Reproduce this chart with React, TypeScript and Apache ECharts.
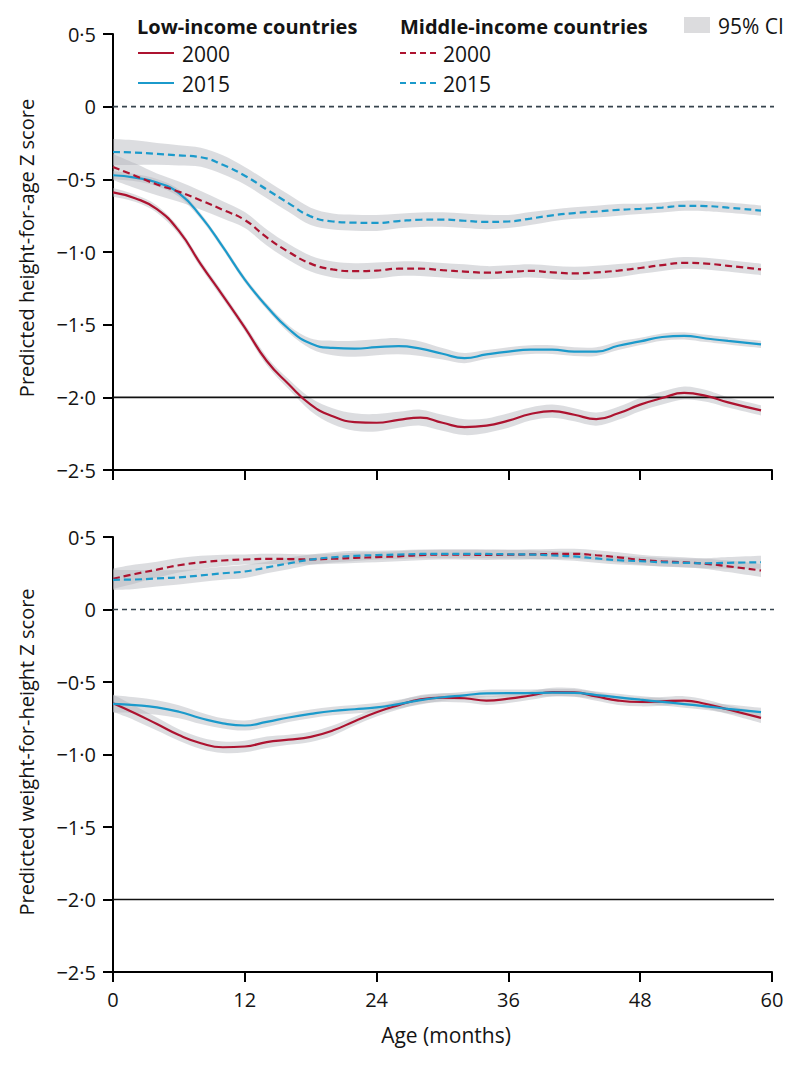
import React, { useEffect, useRef } from 'react';
import * as echarts from 'echarts';

// ---------- Data ----------
const MONTHS = [0, 2, 4, 6, 8, 10, 12, 14, 16, 18, 20, 22, 24, 26, 28, 30, 32, 34, 36, 38, 40, 42, 44, 46, 48, 50, 52, 54, 56, 59];

// Height-for-age Z score (top panel)
const HAZ_LOW_2000 = [-0.59, -0.63, -0.705, -0.855, -1.085, -1.3, -1.52, -1.75, -1.91, -2.05, -2.13, -2.17, -2.175, -2.155, -2.14, -2.175, -2.205, -2.195, -2.16, -2.115, -2.095, -2.12, -2.15, -2.11, -2.05, -2.005, -1.97, -1.99, -2.035, -2.09];
const HAZ_LOW_2015 = [-0.472, -0.488, -0.522, -0.595, -0.755, -0.965, -1.19, -1.375, -1.53, -1.63, -1.66, -1.665, -1.655, -1.648, -1.665, -1.7, -1.73, -1.705, -1.685, -1.672, -1.672, -1.685, -1.685, -1.645, -1.615, -1.585, -1.577, -1.595, -1.612, -1.636];
const HAZ_MID_2000 = [-0.415, -0.475, -0.535, -0.585, -0.645, -0.71, -0.78, -0.9, -1.0, -1.08, -1.12, -1.132, -1.128, -1.115, -1.115, -1.125, -1.135, -1.142, -1.137, -1.13, -1.14, -1.147, -1.14, -1.128, -1.11, -1.09, -1.075, -1.08, -1.095, -1.12];
const HAZ_MID_2015 = [-0.312, -0.316, -0.325, -0.335, -0.348, -0.4, -0.475, -0.57, -0.665, -0.755, -0.79, -0.798, -0.8, -0.787, -0.778, -0.777, -0.785, -0.793, -0.79, -0.77, -0.748, -0.732, -0.722, -0.71, -0.703, -0.694, -0.682, -0.684, -0.695, -0.715];

// 95% CI half-widths (top panel)
const HAZ_LOW_2000_CI = [0.03, 0.025, 0.025, 0.025, 0.025, 0.025, 0.025, 0.03, 0.035, 0.045, 0.055, 0.06, 0.06, 0.055, 0.055, 0.055, 0.055, 0.05, 0.05, 0.045, 0.045, 0.045, 0.045, 0.045, 0.045, 0.045, 0.045, 0.04, 0.035, 0.035];
const HAZ_LOW_2015_CI = [0.03, 0.025, 0.025, 0.025, 0.02, 0.02, 0.02, 0.02, 0.025, 0.035, 0.05, 0.055, 0.055, 0.055, 0.05, 0.04, 0.035, 0.03, 0.03, 0.03, 0.03, 0.03, 0.03, 0.03, 0.025, 0.025, 0.025, 0.025, 0.025, 0.025];
const HAZ_MID_2000_CI = [0.09, 0.085, 0.075, 0.07, 0.065, 0.06, 0.055, 0.055, 0.055, 0.055, 0.055, 0.055, 0.055, 0.05, 0.05, 0.05, 0.05, 0.045, 0.045, 0.045, 0.045, 0.045, 0.045, 0.045, 0.04, 0.04, 0.04, 0.04, 0.04, 0.04];
const HAZ_MID_2015_CI = [0.09, 0.085, 0.075, 0.07, 0.065, 0.065, 0.06, 0.06, 0.06, 0.06, 0.055, 0.055, 0.055, 0.05, 0.05, 0.05, 0.05, 0.05, 0.045, 0.045, 0.04, 0.04, 0.04, 0.04, 0.035, 0.035, 0.035, 0.035, 0.035, 0.035];

// Weight-for-height Z score (bottom panel)
const WHZ_LOW_2000 = [-0.646, -0.715, -0.79, -0.866, -0.922, -0.95, -0.945, -0.915, -0.898, -0.878, -0.835, -0.77, -0.708, -0.66, -0.62, -0.608, -0.612, -0.628, -0.615, -0.593, -0.57, -0.572, -0.6, -0.628, -0.638, -0.634, -0.628, -0.652, -0.69, -0.747];
const WHZ_LOW_2015 = [-0.651, -0.66, -0.675, -0.705, -0.75, -0.785, -0.8, -0.775, -0.745, -0.72, -0.7, -0.688, -0.675, -0.652, -0.625, -0.605, -0.592, -0.578, -0.577, -0.577, -0.573, -0.575, -0.59, -0.606, -0.622, -0.637, -0.652, -0.668, -0.685, -0.708];
const WHZ_MID_2000 = [0.212, 0.245, 0.275, 0.305, 0.325, 0.338, 0.345, 0.349, 0.348, 0.345, 0.35, 0.356, 0.361, 0.367, 0.375, 0.379, 0.378, 0.377, 0.378, 0.38, 0.383, 0.384, 0.374, 0.36, 0.343, 0.332, 0.325, 0.315, 0.298, 0.269];
const WHZ_MID_2015 = [0.205, 0.207, 0.214, 0.222, 0.235, 0.25, 0.262, 0.29, 0.318, 0.344, 0.36, 0.37, 0.375, 0.379, 0.383, 0.384, 0.384, 0.383, 0.381, 0.379, 0.373, 0.366, 0.352, 0.34, 0.333, 0.326, 0.322, 0.319, 0.322, 0.326];

const WHZ_LOW_2000_CI = [0.06, 0.05, 0.045, 0.04, 0.04, 0.04, 0.04, 0.04, 0.035, 0.035, 0.035, 0.03, 0.03, 0.03, 0.03, 0.03, 0.03, 0.03, 0.03, 0.03, 0.03, 0.03, 0.03, 0.03, 0.03, 0.03, 0.03, 0.03, 0.03, 0.035];
const WHZ_LOW_2015_CI = [0.06, 0.055, 0.05, 0.045, 0.04, 0.035, 0.035, 0.035, 0.03, 0.03, 0.03, 0.03, 0.03, 0.03, 0.03, 0.025, 0.025, 0.025, 0.025, 0.025, 0.025, 0.025, 0.025, 0.025, 0.025, 0.025, 0.025, 0.025, 0.03, 0.03];
const WHZ_MID_2000_CI = [0.07, 0.065, 0.055, 0.05, 0.045, 0.04, 0.035, 0.035, 0.035, 0.035, 0.035, 0.035, 0.035, 0.035, 0.035, 0.035, 0.035, 0.035, 0.035, 0.035, 0.035, 0.035, 0.035, 0.035, 0.035, 0.035, 0.035, 0.035, 0.04, 0.045];
const WHZ_MID_2015_CI = [0.07, 0.065, 0.055, 0.05, 0.045, 0.045, 0.045, 0.04, 0.04, 0.035, 0.035, 0.035, 0.03, 0.03, 0.03, 0.03, 0.03, 0.03, 0.03, 0.03, 0.03, 0.03, 0.03, 0.03, 0.03, 0.03, 0.03, 0.035, 0.04, 0.045];

// Reference lines (value, extends a little past 60 months)
const REF_ZERO = 0;
const REF_STUNT = -2;
const REF_X_END = 60.8;

const X_MIN = 0;
const X_MAX = 60;
const X_INTERVAL = 12;
const Y_MIN = -2.5;
const Y_MAX = 0.5;
const Y_INTERVAL = 0.5;

const LEGEND_GROUPS = ['Low-income countries', 'Middle-income countries'];
const LEGEND_YEARS = ['2000', '2015'];
const CI_LABEL = '95% CI';
const Y_NAMES = ['Predicted height-for-age Z score', 'Predicted weight-for-height Z score'];
const X_NAME = 'Age (months)';

// ---------- Styles ----------
const RED = '#ad1330';
const BLUE = '#1b9acb';
const BAND_FILL = 'rgba(178,180,186,0.45)';
const TEXT = '#141414';
const FONT = '"Open Sans", "Noto Sans", sans-serif';

function crPath(p: number[][]): string {
  let s = '';
  for (let i = 0; i < p.length - 1; i++) {
    const p0 = p[i - 1] || p[i];
    const p1 = p[i];
    const p2 = p[i + 1];
    const p3 = p[i + 2] || p2;
    const c1x = p1[0] + (p2[0] - p0[0]) / 6;
    const c1y = p1[1] + (p2[1] - p0[1]) / 6;
    const c2x = p2[0] - (p3[0] - p1[0]) / 6;
    const c2y = p2[1] - (p3[1] - p1[1]) / 6;
    s += ` C${c1x.toFixed(2)},${c1y.toFixed(2)} ${c2x.toFixed(2)},${c2y.toFixed(2)} ${p2[0].toFixed(2)},${p2[1].toFixed(2)}`;
  }
  return s;
}

function bandSeries(g: number, center: number[], ci: number[]) {
  return {
    type: 'custom',
    xAxisIndex: g,
    yAxisIndex: g,
    silent: true,
    z: 1,
    data: MONTHS.map((m, i) => [m, center[i] - ci[i], center[i] + ci[i]]),
    encode: { x: 0, y: [1, 2] },
    renderItem: (params: any, api: any) => {
      if (params.dataIndex !== 0) return null;
      const up = MONTHS.map((m, i) => api.coord([m, center[i] + ci[i]]));
      const lo = MONTHS.map((m, i) => api.coord([m, center[i] - ci[i]])).reverse();
      const d =
        `M${up[0][0].toFixed(2)},${up[0][1].toFixed(2)}` +
        crPath(up) +
        ` L${lo[0][0].toFixed(2)},${lo[0][1].toFixed(2)}` +
        crPath(lo) +
        ' Z';
      return { type: 'path', shape: { pathData: d }, style: { fill: BAND_FILL } };
    },
  };
}

function lineSeries(g: number, name: string, vals: number[], color: string, dashed: boolean) {
  return {
    type: 'line',
    name,
    xAxisIndex: g,
    yAxisIndex: g,
    data: MONTHS.map((m, i) => [m, vals[i]]),
    smooth: 0.5,
    symbol: 'none',
    silent: true,
    z: 4,
    lineStyle: { color, width: 2.2, type: dashed ? [7, 4] : 'solid' },
  };
}

function refSeries(g: number, value: number, dashed: boolean) {
  return {
    type: 'line',
    xAxisIndex: g,
    yAxisIndex: g,
    data: [
      [X_MIN, value],
      [REF_X_END, value],
    ],
    clip: false,
    symbol: 'none',
    silent: true,
    z: 2,
    lineStyle: dashed
      ? { color: '#36434d', width: 1.6, type: [5, 4] }
      : { color: '#111111', width: 1.6, type: 'solid' },
  };
}

function fmtY(v: number): string {
  if (Math.abs(v) < 1e-9) return '0';
  return (v < 0 ? '\u2212' : '') + Math.abs(v).toFixed(1).replace('.', '\u00b7');
}

function yAxis(g: number) {
  return {
    type: 'value',
    gridIndex: g,
    min: Y_MIN,
    max: Y_MAX,
    interval: Y_INTERVAL,
    splitLine: { show: false },
    axisLine: { show: true, lineStyle: { color: '#000', width: 2 } },
    axisTick: { show: true, length: 10, lineStyle: { color: '#000', width: 2 } },
    axisLabel: { formatter: fmtY, color: TEXT, fontSize: 20, fontFamily: FONT, margin: 17 },
  };
}

function xAxis(g: number, labels: boolean) {
  return {
    type: 'value',
    gridIndex: g,
    min: X_MIN,
    max: X_MAX,
    interval: X_INTERVAL,
    splitLine: { show: false },
    axisLine: { show: true, onZero: false, lineStyle: { color: '#000', width: 2 } },
    axisTick: { show: true, length: 10, lineStyle: { color: '#000', width: 2 } },
    axisLabel: { show: labels, color: TEXT, fontSize: 20, fontFamily: FONT, margin: 17 },
  };
}

function legendGraphics() {
  const els: any[] = [];
  const cols = [
    { x: 137, lineX: 138, textX: 182, dashed: false },
    { x: 400, lineX: 400, textX: 443, dashed: true },
  ];
  cols.forEach((c, ci) => {
    els.push({
      type: 'text',
      x: c.x,
      y: 26,
      style: { text: LEGEND_GROUPS[ci], font: `bold 20px ${FONT}`, fill: TEXT, verticalAlign: 'middle' },
    });
    LEGEND_YEARS.forEach((yr, yi) => {
      const yy = 53 + yi * 30;
      els.push({
        type: 'line',
        shape: { x1: c.lineX, y1: yy, x2: c.lineX + 36, y2: yy },
        style: { stroke: yi === 0 ? RED : BLUE, lineWidth: 2.2, lineDash: c.dashed ? [6, 4] : null },
      });
      els.push({
        type: 'text',
        x: c.textX,
        y: yy + 1,
        style: { text: yr, font: `21px ${FONT}`, fill: TEXT, verticalAlign: 'middle' },
      });
    });
  });
  els.push({ type: 'rect', shape: { x: 684, y: 17, width: 26, height: 16 }, style: { fill: '#dcdcde' } });
  els.push({
    type: 'text',
    x: 718,
    y: 26,
    style: { text: CI_LABEL, font: `21px ${FONT}`, fill: TEXT, verticalAlign: 'middle' },
  });
  els.push({
    type: 'text',
    x: 26,
    y: 248,
    rotation: Math.PI / 2,
    style: { text: Y_NAMES[0], font: `20px ${FONT}`, fill: TEXT, align: 'center', verticalAlign: 'middle' },
  });
  els.push({
    type: 'text',
    x: 26,
    y: 752,
    rotation: Math.PI / 2,
    style: { text: Y_NAMES[1], font: `20px ${FONT}`, fill: TEXT, align: 'center', verticalAlign: 'middle' },
  });
  els.push({
    type: 'text',
    x: 446,
    y: 1035,
    style: { text: X_NAME, font: `21px ${FONT}`, fill: TEXT, align: 'center', verticalAlign: 'middle' },
  });
  return els;
}

export default function App() {
  const ref = useRef<HTMLDivElement>(null);
  useEffect(() => {
    document.body.style.margin = '0';
    if (!ref.current) return;
    const chart = echarts.init(ref.current, null, { renderer: 'svg' });
    const option: any = {
      animation: false,
      backgroundColor: '#ffffff',
      textStyle: { fontFamily: FONT },
      grid: [
        { left: 113, top: 34, width: 659, height: 436 },
        { left: 113, top: 537, width: 659, height: 435 },
      ],
      xAxis: [xAxis(0, false), xAxis(1, true)],
      yAxis: [yAxis(0), yAxis(1)],
      graphic: legendGraphics(),
      series: [
        refSeries(0, REF_ZERO, true),
        refSeries(0, REF_STUNT, false),
        refSeries(1, REF_ZERO, true),
        refSeries(1, REF_STUNT, false),
        bandSeries(0, HAZ_LOW_2000, HAZ_LOW_2000_CI),
        bandSeries(0, HAZ_LOW_2015, HAZ_LOW_2015_CI),
        bandSeries(0, HAZ_MID_2000, HAZ_MID_2000_CI),
        bandSeries(0, HAZ_MID_2015, HAZ_MID_2015_CI),
        bandSeries(1, WHZ_LOW_2000, WHZ_LOW_2000_CI),
        bandSeries(1, WHZ_LOW_2015, WHZ_LOW_2015_CI),
        bandSeries(1, WHZ_MID_2000, WHZ_MID_2000_CI),
        bandSeries(1, WHZ_MID_2015, WHZ_MID_2015_CI),
        lineSeries(0, 'Low-income 2000', HAZ_LOW_2000, RED, false),
        lineSeries(0, 'Low-income 2015', HAZ_LOW_2015, BLUE, false),
        lineSeries(0, 'Middle-income 2000', HAZ_MID_2000, RED, true),
        lineSeries(0, 'Middle-income 2015', HAZ_MID_2015, BLUE, true),
        lineSeries(1, 'Low-income 2000', WHZ_LOW_2000, RED, false),
        lineSeries(1, 'Low-income 2015', WHZ_LOW_2015, BLUE, false),
        lineSeries(1, 'Middle-income 2000', WHZ_MID_2000, RED, true),
        lineSeries(1, 'Middle-income 2015', WHZ_MID_2015, BLUE, true),
      ],
    };
    chart.setOption(option);
    return () => chart.dispose();
  }, []);
  return <div ref={ref} style={{ width: 800, height: 1065 }} />;
}
